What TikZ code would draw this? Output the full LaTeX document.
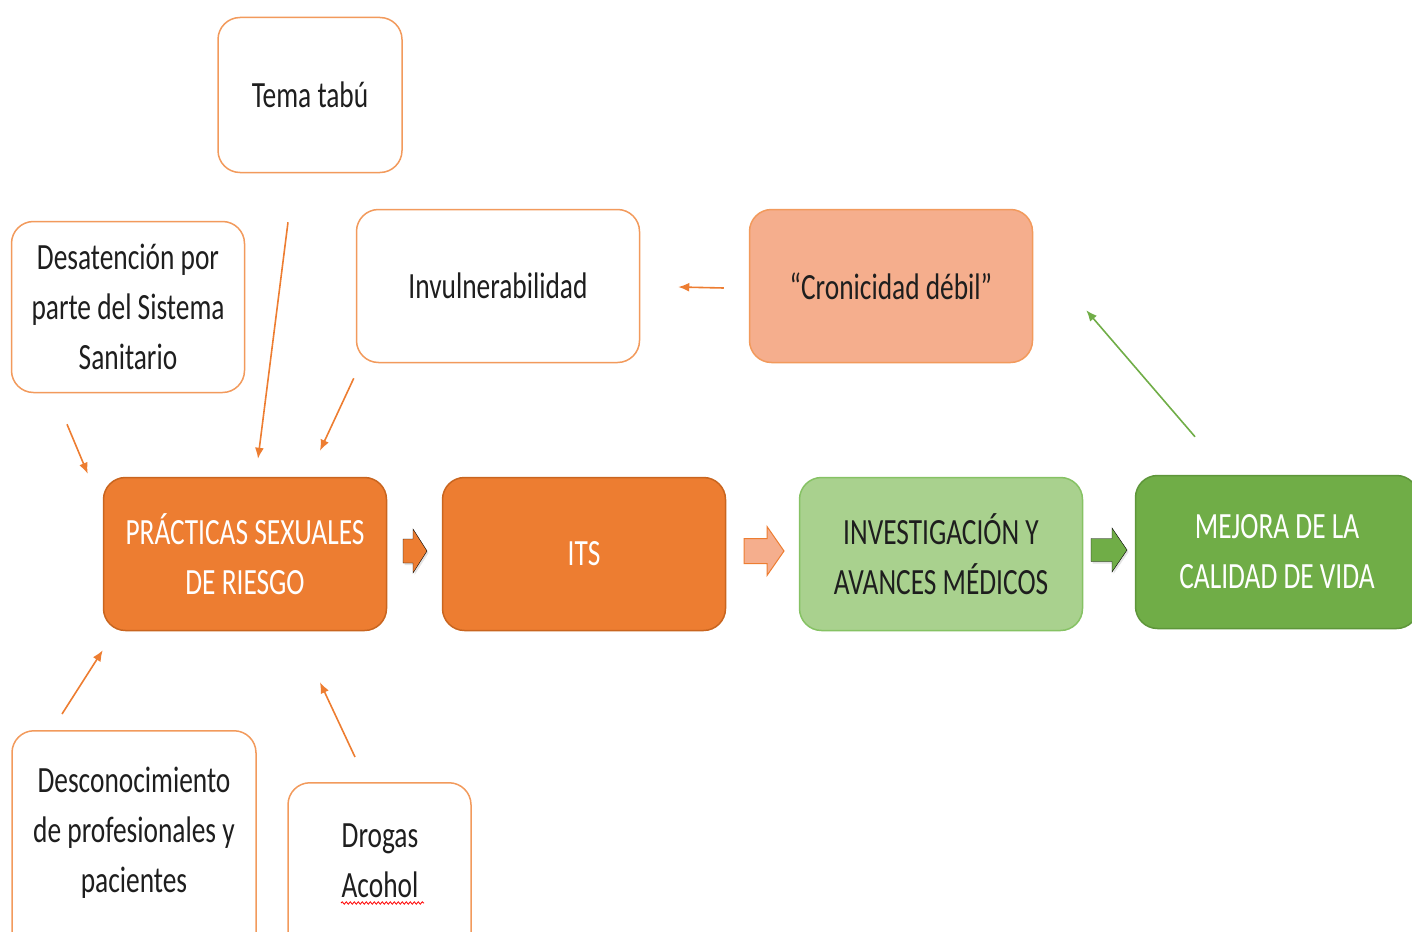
\documentclass[tikz,border=0pt]{standalone}
\usepackage{fontspec}
\setmainfont{Carlito}[FakeStretch=0.74]
\usetikzlibrary{arrows.meta,calc,shadows,decorations.pathmorphing}
\definecolor{orangefill}{HTML}{ED7D31}
\definecolor{orangeline}{HTML}{C9651F}
\definecolor{lightline}{HTML}{F29A5C}
\definecolor{salmon}{HTML}{F5AE8D}
\definecolor{greenlight}{HTML}{A9D18E}
\definecolor{greenline}{HTML}{86C264}
\definecolor{greenfill}{HTML}{70AD47}
\definecolor{greendark}{HTML}{5E963A}
\definecolor{textgray}{HTML}{1E1E1E}

% block arrow: options, left x, centre y, length, head length, half shaft, half head
\newcommand{\blockarr}[7]{\draw[#1] (#2,#3-#6) -- (#2+#4-#5,#3-#6) -- (#2+#4-#5,#3-#7)
	-- (#2+#4,#3) -- (#2+#4-#5,#3+#7) -- (#2+#4-#5,#3+#6) -- (#2,#3+#6) -- cycle;}

\begin{document}
\begin{tikzpicture}[x=1pt,y=-1pt]

\tikzstyle{every node}=[font=\fontsize{37}{50}\selectfont, text=textgray, align=center]
\tikzstyle{box}=[draw=lightline, line width=1.5pt, rounded corners=22pt, fill=white,
	minimum width=283pt, minimum height=153pt]
\tikzstyle{hotbox}=[box, draw=orangeline, fill=orangefill, text=white]
\tikzstyle{link}=[draw=orangefill, line width=1.6pt, -{Latex[length=11pt,width=9pt]}]
\tikzstyle{blur}=[drop shadow={opacity=0.22, shadow xshift=1.5pt, shadow yshift=-2pt}]

\useasboundingbox (0,0) rectangle (1412,931);

% top row
\node[box, minimum width=184pt, minimum height=155pt] (tema) at (310,95) {Tema tabú};
\node[box, minimum width=233pt, minimum height=171pt] (desat) at (128,307)
	{Desatención por\\parte del Sistema\\Sanitario};
\node[box] (invul) at (498,286) {Invulnerabilidad};
\node[box, draw=lightline, fill=salmon] (cron) at (891,286) {“Cronicidad débil”};

% main row
\node[hotbox] (prac) at (245,554) {PRÁCTICAS SEXUALES\\DE RIESGO};
\node[hotbox] (its) at (584,554) {ITS};
\node[box, draw=greenline, fill=greenlight] (inv) at (941,554)
	{INVESTIGACIÓN Y\\AVANCES MÉDICOS};
\node[box, draw=greendark, fill=greenfill, text=white] (mej) at (1277,552)
	{MEJORA DE LA\\CALIDAD DE VIDA};

% bottom row
\node[box, minimum width=244pt, minimum height=260pt, anchor=north] (desc) at (134,730) {};
\node (desctxt) at (134,833) {Desconocimiento\\de profesionales y\\pacientes};
\node[box, minimum width=183pt, minimum height=220pt, anchor=north] (drog) at (379.5,782) {};
\node (drogtxt) at (380,861) {Drogas\\Acohol};
\draw[red, line width=0.8pt, decorate, decoration={snake, amplitude=1.2pt, segment length=4pt}]
	(341,903) -- (424,903);

% thin arrows
\draw[link] ($(tema.south)+(-22,49)$) -- ($(prac.north)+(13,-18)$);
\draw[link] ($(invul.south west)+(-2,15)$) -- ($(prac.north)+(75,-26)$);
\draw[link] ($(desat.south)+(-61,31)$) -- ($(prac.north west)+(-15,-3)$);
\draw[link] ($(desc.north)+(-72,-16)$) -- ($(prac.south west)+(0,19)$);
\draw[link] ($(drog.north)+(-24.5,-25)$) -- ($(prac.south)+(75,51)$);
\draw[link] ($(cron.west)+(-25,2)$) -- ($(invul.east)+(38,1)$);
\draw[link, draw=greenfill] ($(mej.north)+(-82,-38)$) -- ($(cron.south east)+(53,-53)$);

% block arrows
\blockarr{fill=orangefill, blur}{403}{551}{24}{14}{12}{22}
\blockarr{fill=salmon, draw=orangefill, line width=1pt}{744}{551}{40}{17}{12.5}{24.5}
\blockarr{fill=greenfill, blur}{1091}{550}{36}{15}{11.5}{22}

\end{tikzpicture}
\end{document}
